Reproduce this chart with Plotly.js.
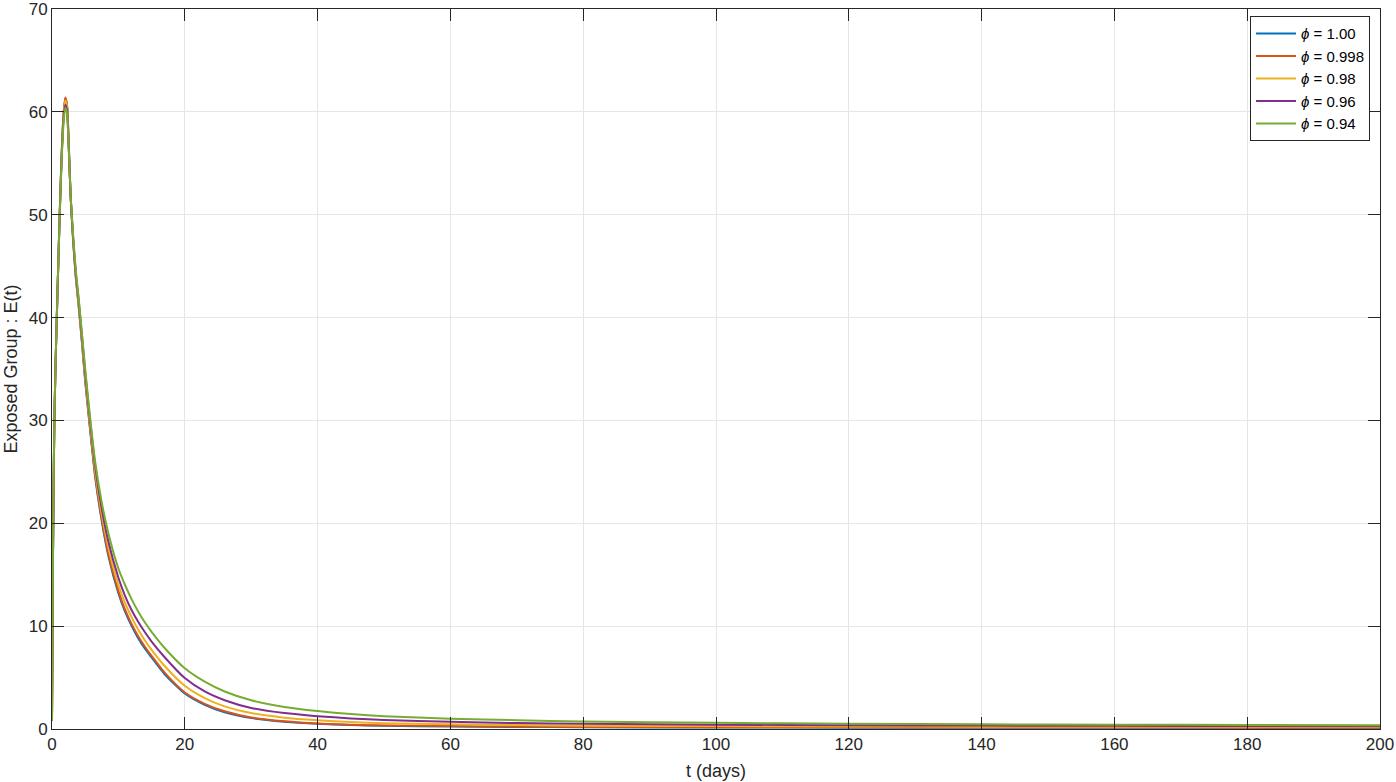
<!DOCTYPE html>
<html>
<head>
<meta charset="utf-8">
<script src="https://cdn.plot.ly/plotly-3.0.1.min.js"></script>
<style>html,body{margin:0;padding:0;background:#fff;}#chart{width:1396px;height:782px;}</style>
</head>
<body>
<div id="chart"></div>
<script>
// time grid (days)
var tDays = [0, 0.05, 0.1, 0.15, 0.25, 0.35, 0.5, 0.7, 1.0, 1.25, 1.5, 1.75,
  2.0, 2.25, 2.5, 2.8, 3.2, 3.6, 4.0, 4.5, 5.0, 5.7,
  6.5, 7.5, 8.5, 10, 11, 12, 13, 14, 15, 17,
  20, 23, 26, 30, 35, 40, 45, 50, 60, 70,
  80, 100, 120, 140, 160, 180, 200];

var seriesNames = ["<i>ϕ</i> = 1.00", "<i>ϕ</i> = 0.998", "<i>ϕ</i> = 0.98", "<i>ϕ</i> = 0.96", "<i>ϕ</i> = 0.94"];

var E_phi100 = [0.8, 6, 12, 17, 24, 29.5, 34.5, 39.5, 46.5, 52, 56.6, 59.8,
  61.3, 60.7, 57.2, 51.8, 47.3, 43.8, 41.2, 37.6, 33.8, 29.3,
  24.5, 20.2, 16.8, 13.2, 11.4, 10.0, 8.8, 7.8, 6.95, 5.3,
  3.45, 2.35, 1.62, 1.06, 0.7, 0.5, 0.39, 0.31, 0.25, 0.2,
  0.17, 0.14, 0.13, 0.12, 0.11, 0.11, 0.1];

var E_phi0998 = [0.8, 6, 12, 17, 24, 29.5, 34.5, 39.5, 46.5, 52, 56.6, 59.9,
  61.4, 60.8, 57.3, 51.9, 47.4, 43.9, 41.3, 37.8, 34.0, 29.5,
  24.7, 20.4, 17.0, 13.4, 11.6, 10.2, 9.0, 8.0, 7.1, 5.45,
  3.55, 2.45, 1.72, 1.12, 0.75, 0.53, 0.42, 0.34, 0.28, 0.23,
  0.2, 0.17, 0.16, 0.15, 0.14, 0.13, 0.13];

var E_phi098 = [0.8, 6, 12, 17, 24, 29.5, 34.5, 39.5, 46.5, 52, 56.5, 59.7,
  61.1, 60.6, 57.2, 51.9, 47.5, 44.0, 41.5, 38.0, 34.3, 29.8,
  25.1, 20.9, 17.6, 14.0, 12.25, 10.85, 9.65, 8.6, 7.7, 6.1,
  4.2, 3.0, 2.2, 1.55, 1.1, 0.85, 0.68, 0.56, 0.46, 0.38,
  0.32, 0.28, 0.25, 0.23, 0.22, 0.21, 0.2];

var E_phi096 = [0.8, 6, 12, 17, 24, 29.5, 34.5, 39.5, 46.4, 51.8, 56.3, 59.4,
  60.7, 60.2, 57.0, 51.9, 47.6, 44.2, 41.8, 38.3, 34.7, 30.2,
  25.6, 21.4, 18.2, 14.7, 12.95, 11.55, 10.4, 9.4, 8.5, 6.95,
  4.95, 3.65, 2.8, 2.05, 1.55, 1.25, 1.03, 0.87, 0.7, 0.58,
  0.5, 0.42, 0.37, 0.33, 0.31, 0.29, 0.27];

var E_phi094 = [0.8, 6, 12, 17, 24, 29.5, 34.5, 39.5, 46.3, 51.6, 56.0, 59.0,
  60.4, 59.9, 56.8, 51.9, 47.8, 44.5, 42.0, 38.5, 35.0, 30.5,
  26.0, 22.0, 19.0, 15.6, 14.0, 12.6, 11.4, 10.35, 9.45, 7.85,
  5.9, 4.6, 3.65, 2.8, 2.15, 1.75, 1.45, 1.25, 1.0, 0.85,
  0.72, 0.6, 0.52, 0.46, 0.42, 0.39, 0.36];

var seriesValues = [E_phi100, E_phi0998, E_phi098, E_phi096, E_phi094];
var seriesColors = ["#0072BD", "#D95319", "#EDB120", "#7E2F8E", "#77AC30"];

var xTicks = [0, 20, 40, 60, 80, 100, 120, 140, 160, 180, 200];
var yTicks = [0, 10, 20, 30, 40, 50, 60, 70];

var traces = seriesValues.map(function (vals, i) {
  return {
    x: tDays, y: vals, type: "scatter", mode: "lines",
    name: seriesNames[i],
    line: {color: seriesColors[i], width: 2, shape: "spline", smoothing: 0.6}
  };
});

var axisCommon = {
  showline: true, linecolor: "#262626", linewidth: 1, mirror: "ticks",
  ticks: "inside", ticklen: 12, tickwidth: 1, tickcolor: "#262626",
  showgrid: true, gridcolor: "#e6e6e6", gridwidth: 1,
  zeroline: false, ticklabeloverflow: "allow",
  tickfont: {family: "Liberation Sans, Arial, sans-serif", size: 17, color: "#262626"}
};

var layout = {
  width: 1396, height: 782,
  margin: {l: 52, r: 16, t: 9, b: 53},
  paper_bgcolor: "#ffffff", plot_bgcolor: "#ffffff",
  showlegend: true,
  font: {family: "Liberation Sans, Arial, sans-serif", color: "#262626"},
  xaxis: Object.assign({}, axisCommon, {
    range: [0, 200], tickvals: xTicks,
    title: {text: "t (days)", font: {size: 18, color: "#262626"}, standoff: 10}
  }),
  yaxis: Object.assign({}, axisCommon, {
    range: [0, 70], tickvals: yTicks,
    title: {text: "Exposed Group : E(t)", font: {size: 18, color: "#262626"}, standoff: 6}
  }),
  legend: {
    x: 0.9925, xanchor: "right", y: 0.99, yanchor: "top",
    bgcolor: "#ffffff", bordercolor: "#262626", borderwidth: 1,
    font: {size: 15, color: "#000000"},
    itemwidth: 40, tracegroupgap: 0
  }
};

Plotly.newPlot("chart", traces, layout, {displayModeBar: false, staticPlot: true});
</script>
</body>
</html>
